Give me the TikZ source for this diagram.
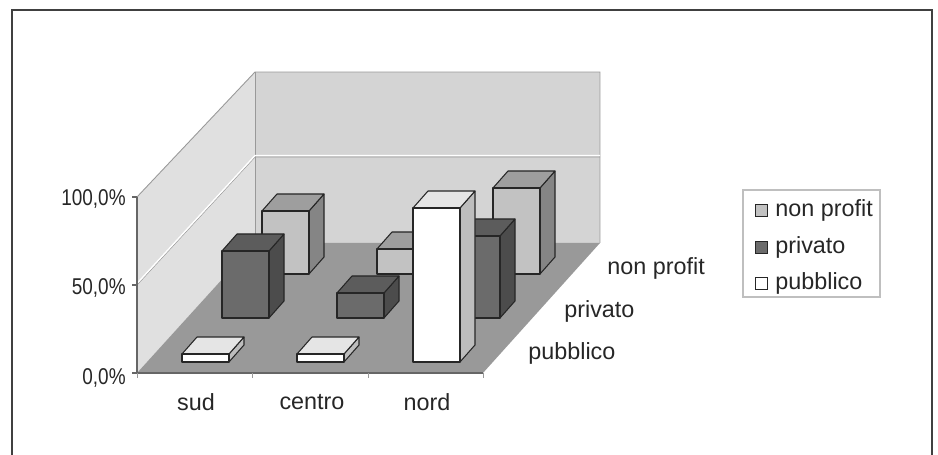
\documentclass[tikz,border=0pt]{standalone}
\usepackage{fontspec}
\setmainfont{Liberation Sans}
\newfontfamily\narrowsans[FakeStretch=0.83]{Liberation Sans}
\usetikzlibrary{calc}

% one 3-D bar: #1 = left x, #2 = base y, #3 = height, #4 = series prefix
\newcommand{\cubebar}[4]{%
  \draw[barline, fill=#4side] (#1+47,#2) -- ++(15,-17) -- ++(0,-#3) -- ++(-15,17) -- cycle;
  \draw[barline, fill=#4top] (#1,#2-#3) -- ++(47,0) -- ++(15,-17) -- ++(-47,0) -- cycle;
  \draw[barline, fill=#4front] (#1,#2) rectangle ++(47,-#3);
}

\begin{document}
\begin{tikzpicture}[x=0.02cm, y=-0.02cm,
    every node/.style={font=\fontsize{13.3}{16}\selectfont, text=black!85, inner sep=0pt},
    vallabel/.style={anchor=east, font=\narrowsans\fontsize{13}{16}\selectfont},
    barline/.style={draw=black!85, line width=0.6pt, line join=round},
    wallline/.style={draw=black!40, line width=0.5pt},
    legkey/.style={draw=black!85, line width=0.5pt, minimum size=12*0.02cm, inner sep=0pt}]
  % Colors
  \definecolor{backwall}{gray}{0.83}
  \definecolor{sidewall}{gray}{0.88}
  \definecolor{floorgray}{gray}{0.6}
  \definecolor{npfront}{gray}{0.76}
  \definecolor{nptop}{gray}{0.62}
  \definecolor{npside}{gray}{0.52}
  \definecolor{prfront}{gray}{0.42}
  \definecolor{prtop}{gray}{0.36}
  \definecolor{prside}{gray}{0.3}
  \definecolor{pufront}{gray}{1}
  \definecolor{putop}{gray}{0.9}
  \definecolor{puside}{gray}{0.74}

  \useasboundingbox (0,0) rectangle (938,455);

  % Outer frame
  \draw[black!75, line width=1pt] (12,455) -- (12,10) -- (932,10) -- (932,455);

  % Walls and floor
  \fill[backwall] (255,243) rectangle (600,72);
  \fill[sidewall] (137,373) -- (137,197) -- (255,72) -- (255,243) -- cycle;
  \fill[floorgray] (137,373) -- (483,373) -- (600,243) -- (255,243) -- cycle;
  \draw[wallline] (137,197) -- (255,72) -- (600,72) -- (600,243);
  \draw[wallline] (255,72) -- (255,243);
  % 50% gridline
  \draw[black!40, line width=0.4pt] (137,285) -- (255,157) -- (600,157);
  \draw[white, line width=0.8pt] (137,283.5) -- (255,155.5) -- (600,155.5);

  % Axis and ticks
  \draw[black!60, line width=0.6pt] (137,197) -- (137,373) -- (483,373);
  \foreach \ty in {197,285,373} {
    \draw[black!60, line width=0.6pt] (132,\ty) -- (137,\ty);
  }
  \foreach \tx in {137,252,368,483} {
    \draw[black!40, line width=0.5pt] (\tx,373) -- (\tx,378);
  }

  % Bars, back row first
  \cubebar{262}{274}{63}{np}
  \cubebar{377}{274}{25}{np}
  \cubebar{493}{274}{86}{np}
  \cubebar{222}{318}{67}{pr}
  \cubebar{337}{318}{25}{pr}
  \cubebar{453}{318}{82}{pr}
  \cubebar{182}{362}{8}{pu}
  \cubebar{297}{362}{8}{pu}
  \cubebar{413}{362}{154}{pu}

  % Value axis labels
  \node[vallabel] (lab100) at (126,199) {100,0\%};
  \node[vallabel] (lab50) at (126,288) {50,0\%};
  \node[vallabel] (lab0) at (126,378) {0,0\%};

  % Category labels
  \node (sud) at (196,402) {sud};
  \node (centro) at (312,402) {centro};
  \node (nord) at (427,402) {nord};

  % Series labels along the depth
  \node[anchor=west] (dpub) at (528,353) {pubblico};
  \node[anchor=west] (dpri) at (564,311) {privato};
  \node[anchor=west] (dnon) at (607,268) {non profit};

  % Legend
  \draw[black!25, line width=0.6pt] (743,190) rectangle (880,297);
  \node[legkey, fill=npfront] (knon) at (761,210) {};
  \node[legkey, fill=prfront] (kpri) at (761,247) {};
  \node[legkey, fill=pufront] (kpub) at (761,283) {};
  \node[anchor=west] (lnon) at (775,210) {non profit};
  \node[anchor=west] (lpri) at (775,247) {privato};
  \node[anchor=west] (lpub) at (775,283) {pubblico};
\end{tikzpicture}
\end{document}
